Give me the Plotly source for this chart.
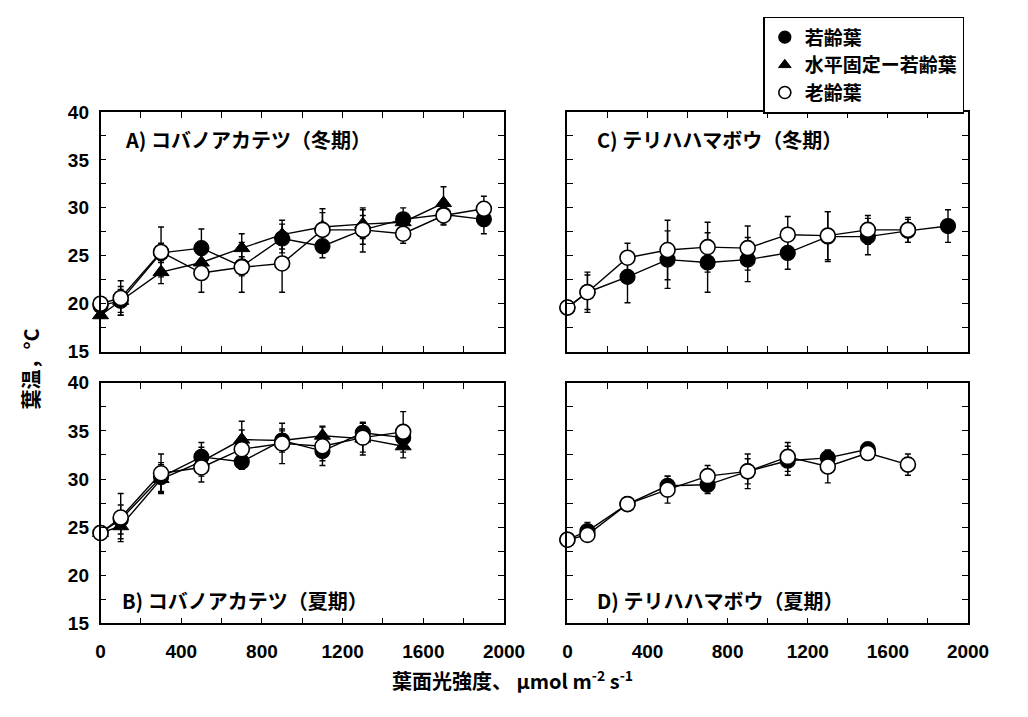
import plotly.graph_objects as go

# ---------------- data ----------------
x_full = [0, 100, 300, 500, 700, 900, 1100, 1300, 1500, 1700, 1900]

# A) コバノアカテツ（冬期）
A_x_young = x_full
A_young = [19.8, 20.3, 25.3, 25.8, 23.9, 26.8, 26.0, 27.7, 28.8, 29.3, 28.8]
A_young_err = [0.5, 1.5, 1.0, 2.0, 1.0, 1.5, 1.2, 1.5, 1.2, 1.0, 1.5]
A_x_fixed = x_full[:10]
A_fixed = [18.8, 20.3, 23.3, 24.3, 25.8, 27.2, 28.0, 28.3, 28.5, 30.5]
A_fixed_err = [0.3, 1.2, 1.2, 1.5, 1.5, 1.5, 1.5, 1.5, 1.0, 1.7]
A_x_old = x_full
A_old = [20.0, 20.6, 25.4, 23.2, 23.8, 24.2, 27.7, 27.7, 27.3, 29.2, 29.9]
A_old_err = [0.5, 1.8, 2.6, 2.0, 2.6, 3.0, 2.2, 2.3, 1.0, 1.0, 1.3]

# C) テリハハマボウ（冬期）
C_x_young = x_full
C_young = [19.6, 21.2, 22.8, 24.6, 24.3, 24.6, 25.3, 27.0, 27.0, 27.6, 28.1]
C_young_err = [0.3, 1.8, 2.7, 3.0, 3.1, 2.3, 1.7, 2.6, 1.9, 1.2, 1.7]
C_x_old = x_full[:10]
C_old = [19.6, 21.2, 24.8, 25.6, 25.9, 25.8, 27.2, 27.1, 27.7, 27.7]
C_old_err = [0.3, 2.1, 1.5, 3.1, 2.6, 2.3, 1.9, 2.5, 1.5, 1.3]

# B) コバノアカテツ（夏期）
B_x = x_full[:9]
B_young = [24.4, 25.8, 30.2, 32.3, 31.8, 34.0, 32.9, 34.8, 34.3]
B_young_err = [0.3, 1.5, 1.5, 1.5, 0.8, 1.0, 1.0, 1.0, 1.0]
B_fixed = [24.4, 25.1, 30.0, 31.8, 34.1, 34.0, 34.5, 34.2, 33.4]
B_fixed_err = [0.3, 1.3, 1.5, 1.5, 1.9, 1.2, 1.0, 1.7, 1.2]
B_old = [24.4, 26.0, 30.6, 31.2, 33.1, 33.7, 33.4, 34.3, 34.9]
B_old_err = [0.3, 2.5, 2.0, 1.5, 2.0, 2.1, 2.0, 1.5, 2.1]

# D) テリハハマボウ（夏期）
D_x_young = x_full[:9]
D_young = [23.7, 24.6, 27.4, 29.3, 29.4, 30.8, 31.9, 32.2, 33.1]
D_young_err = [0.3, 0.9, 0.3, 1.0, 0.9, 1.3, 1.5, 0.8, 0.3]
D_x_old = x_full[:10]
D_old = [23.7, 24.2, 27.4, 28.9, 30.3, 30.8, 32.3, 31.3, 32.7, 31.5]
D_old_err = [0.3, 0.6, 0.3, 1.4, 1.1, 1.8, 1.5, 1.7, 0.4, 1.1]

series_names = ["若齢葉", "水平固定ー若齢葉", "老齢葉"]
panel_titles = ["A) コバノアカテツ（冬期）", "C) テリハハマボウ（冬期）",
                "B) コバノアカテツ（夏期）", "D) テリハハマボウ（夏期）"]
x_tickvals = [0, 400, 800, 1200, 1600, 2000]
y_tickvals = [15, 20, 25, 30, 35, 40]
x_title = "葉面光強度、 μmol m<sup>-2</sup> s<sup>-1</sup>"
y_title = "葉温，°C"

# ---------------- styling ----------------
W, H = 1028, 717
CJK = "Noto Sans CJK JP"
NUM = "Liberation Sans Narrow, Liberation Sans, Arial"

def px_x(a, b):
    return [a / W, b / W]

def px_y(top, bottom):
    return [1 - bottom / H, 1 - top / H]

domains = {
    1: (px_x(98, 512), px_y(105, 352)),   # A
    2: (px_x(577, 988), px_y(105, 352)),  # C
    3: (px_x(98, 512), px_y(384, 632)),   # B
    4: (px_x(577, 988), px_y(384, 632)),  # D
}

styles = {
    "young": dict(symbol="circle", size=15, color="black", line=dict(color="black", width=1.2)),
    "fixed": dict(symbol="triangle-up", size=14, color="black", line=dict(color="black", width=1)),
    "old": dict(symbol="circle", size=15, color="white", line=dict(color="black", width=1.6)),
}

fig = go.Figure()

def add_series(i, xs, ys, errs, kind):
    sfx = "" if i == 1 else str(i)
    fig.add_trace(go.Scatter(
        x=xs, y=ys, mode="lines+markers",
        line=dict(color="black", width=1.4),
        marker=styles[kind],
        error_y=dict(type="data", array=errs, visible=True, color="black",
                     thickness=1.4, width=3),
        cliponaxis=False, showlegend=False,
        xaxis="x" + sfx, yaxis="y" + sfx,
    ))

add_series(1, A_x_young, A_young, A_young_err, "young")
add_series(1, A_x_fixed, A_fixed, A_fixed_err, "fixed")
add_series(1, A_x_old, A_old, A_old_err, "old")
add_series(2, C_x_young, C_young, C_young_err, "young")
add_series(2, C_x_old, C_old, C_old_err, "old")
add_series(3, B_x, B_young, B_young_err, "young")
add_series(3, B_x, B_fixed, B_fixed_err, "fixed")
add_series(3, B_x, B_old, B_old_err, "old")
add_series(4, D_x_young, D_young, D_young_err, "young")
add_series(4, D_x_old, D_old, D_old_err, "old")

# legend-only entries (markers only)
for name, kind in zip(series_names, ["young", "fixed", "old"]):
    m = dict(styles[kind])
    m["size"] = 12 if kind != "fixed" else 11
    fig.add_trace(go.Scatter(x=[None], y=[None], mode="markers", marker=m,
                             name=name, showlegend=True, legendgroup=kind))

layout = dict(
    width=W, height=H,
    margin=dict(l=0, r=0, t=0, b=0),
    paper_bgcolor="white", plot_bgcolor="white",
    showlegend=True,
    legend=dict(x=778 / W, y=1 - 7 / H, xanchor="left", yanchor="top",
                bordercolor="black", borderwidth=1.5, bgcolor="white",
                font=dict(family=CJK, size=19, color="black", weight="bold"),
                tracegroupgap=0, itemwidth=30),
)

for i in range(1, 5):
    sfx = "" if i == 1 else str(i)
    xd, yd = domains[i]
    layout["xaxis" + sfx] = dict(
        domain=xd, anchor="y" + sfx, range=[0, 2000],
        tickvals=x_tickvals, ticks="inside", ticklen=6, tickwidth=1.2,
        tickcolor="black", showline=True, linecolor="black", linewidth=1.5,
        mirror="ticks", showgrid=False, zeroline=False,
        minor=dict(dtick=200, ticks="inside", ticklen=6, tickcolor="black", tickwidth=1.2),
        tickfont=dict(family=NUM, size=19, color="black", weight="bold"),
        showticklabels=i in (3, 4), ticklabelstandoff=10,
    )
    layout["yaxis" + sfx] = dict(
        domain=yd, anchor="x" + sfx, range=[15, 40],
        tickvals=y_tickvals, ticks="inside", ticklen=6, tickwidth=1.2,
        tickcolor="black", showline=True, linecolor="black", linewidth=1.5,
        mirror="ticks", showgrid=False, zeroline=False,
        minor=dict(dtick=2.5, ticks="inside", ticklen=6, tickcolor="black", tickwidth=1.2),
        tickfont=dict(family=NUM, size=19, color="black", weight="bold"),
        showticklabels=i in (1, 3), ticklabelstandoff=6,
    )

fig.update_layout(**layout)

# panel titles
title_pos = {1: (0.055, 0.887), 2: (0.068, 0.887), 3: (0.048, 0.095), 4: (0.068, 0.095)}
for i, t in zip([1, 2, 3, 4], panel_titles):
    sfx = "" if i == 1 else str(i)
    fig.add_annotation(
        text=t, xref=("x" + sfx) + " domain", yref=("y" + sfx) + " domain",
        x=title_pos[i][0], y=title_pos[i][1], xanchor="left", yanchor="middle",
        showarrow=False, font=dict(family=CJK, size=20, color="black", weight="bold"),
    )

# axis titles
fig.add_annotation(text=x_title, xref="paper", yref="paper", x=521 / W, y=1 - 690 / H,
                   xanchor="center", yanchor="middle", showarrow=False,
                   font=dict(family=CJK, size=20, color="black", weight="bold"))
fig.add_annotation(text=y_title, xref="paper", yref="paper", x=26 / W, y=1 - 370 / H,
                   xanchor="center", yanchor="middle", showarrow=False, textangle=-90,
                   font=dict(family=CJK, size=20, color="black", weight="bold"))

fig.write_html("out.html")
